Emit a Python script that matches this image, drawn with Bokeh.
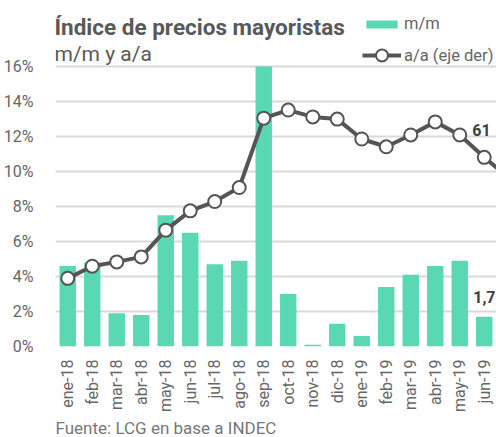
from bokeh.plotting import figure
from bokeh.models import Range1d, FixedTicker, Label, Legend, LegendItem, Title
from bokeh.embed import file_html
from bokeh.resources import INLINE
from math import pi

months = ["ene-18", "feb-18", "mar-18", "abr-18", "may-18", "jun-18", "jul-18", "ago-18",
          "sep-18", "oct-18", "nov-18", "dic-18", "ene-19", "feb-19", "mar-19", "abr-19",
          "may-19", "jun-19"]
mm = [4.6, 4.8, 1.9, 1.8, 7.5, 6.5, 4.7, 4.9, 16.0, 3.0, 0.1, 1.3, 0.6, 3.4, 4.1, 4.6, 4.9, 1.7]
# a/a series (right axis), continues one month beyond the visible area (jul-19)
aa_months = months + ["jul-19"]
aa = [21.9, 25.8, 27.2, 28.8, 37.4, 43.6, 46.6, 51.1, 73.4, 76.0, 73.8, 73.1,
      66.7, 64.2, 68.0, 72.2, 68.0, 60.8, 54.3]
left_ticks = [0, 2, 4, 6, 8, 10, 12, 14, 16]
right_max = 90

title_txt = "Índice de precios mayoristas"
subtitle_txt = "m/m y a/a"
source_txt = "Fuente: LCG en base a INDEC"
label_aa = "61"
label_mm = "1,7"

TEAL = "#5ad8b3"
DARK = "#555555"
GRAY = "#666666"
FONT = "Roboto"

# layout (pixels)
W, H = 496, 437
BOTTOM = 91          # space below the plotting area
HEAD = 66            # space above the 16% gridline (title + legend live here)
frame_h = H - BOTTOM
scale_top = left_ticks[-1] * frame_h / (frame_h - HEAD)

x_mm = list(range(len(months)))
x_aa = list(range(len(aa_months)))

p = figure(width=W, height=H, x_range=Range1d(-0.5, len(months) - 0.5),
           y_range=Range1d(left_ticks[0], scale_top),
           output_backend="svg", toolbar_location=None,
           min_border_left=53, min_border_right=0, min_border_top=0, min_border_bottom=BOTTOM)
p.extra_y_ranges = {"aa": Range1d(0, right_max * scale_top / left_ticks[-1])}
p.outline_line_color = None
p.background_fill_color = "white"
p.border_fill_color = "white"

p.xgrid.visible = False
p.ygrid.ticker = FixedTicker(ticks=left_ticks)
p.ygrid.grid_line_color = "#d9d9d9"
p.ygrid.grid_line_width = 2

ya = p.yaxis[0]
ya.ticker = FixedTicker(ticks=left_ticks)
ya.major_label_overrides = {t: f"{t}%" for t in left_ticks}
ya.axis_line_color = None
ya.major_tick_line_color = None
ya.minor_tick_line_color = None
ya.major_label_standoff = 16
ya.major_label_text_font = FONT
ya.major_label_text_font_size = "16px"
ya.major_label_text_color = GRAY

xa = p.xaxis[0]
xa.ticker = FixedTicker(ticks=x_mm)
xa.major_label_overrides = {i: m for i, m in enumerate(months)}
xa.major_label_orientation = pi / 2
xa.axis_line_color = None
xa.major_tick_line_color = None
xa.minor_tick_line_color = None
xa.major_label_standoff = 7
xa.major_label_text_font = FONT
xa.major_label_text_font_size = "16px"
xa.major_label_text_color = GRAY

bars = p.vbar(x=x_mm, top=mm, width=0.67, fill_color=TEAL, line_color=None)
line = p.line(x=x_aa, y=aa, y_range_name="aa", line_color=DARK, line_width=4)
pts = p.scatter(x=x_aa, y=aa, y_range_name="aa", size=13, marker="circle",
                fill_color="white", line_color=DARK, line_width=2)

leg1 = Legend(items=[LegendItem(label="m/m", renderers=[bars])], location=(307, 313),
              glyph_width=39, glyph_height=10, label_height=18, padding=0, margin=0,
              border_line_color=None, background_fill_alpha=0, label_standoff=3,
              label_text_font=FONT, label_text_font_size="16.5px", label_text_color=GRAY)
leg2 = Legend(items=[LegendItem(label="a/a (eje der)", renderers=[line, pts])], location=(307, 276),
              glyph_width=39, glyph_height=30, label_height=18, padding=0, margin=0,
              border_line_color=None, background_fill_alpha=0, label_standoff=3,
              label_text_font=FONT, label_text_font_size="16.5px", label_text_color=GRAY)
p.add_layout(leg1, "center")
p.add_layout(leg2, "center")

p.add_layout(Label(x=-1, y=320, x_units="screen", y_units="screen", text=title_txt,
                   text_font=FONT, text_font_style="bold", text_font_size="22.5px",
                   text_color="#595959", text_baseline="alphabetic"))
p.add_layout(Label(x=-1, y=293, x_units="screen", y_units="screen", text=subtitle_txt,
                   text_font=FONT, text_font_size="21px",
                   text_color="#595959", text_baseline="alphabetic"))
p.add_layout(Title(text=source_txt, align="left", text_font=FONT, text_font_size="17px",
                   text_font_style="normal", text_color="#777777", standoff=0), "below")

last = len(months) - 1
p.add_layout(Label(x=x_mm[last], y=aa[last], y_range_name="aa", x_offset=-12, y_offset=27,
                   text=label_aa, text_font=FONT, text_font_style="bold", text_font_size="16px",
                   text_color="#404040", text_baseline="middle"))
p.add_layout(Label(x=x_mm[last], y=mm[last], x_offset=-11, y_offset=20,
                   text=label_mm, text_font=FONT, text_font_style="bold", text_font_size="16px",
                   text_color="#404040", text_baseline="middle"))

open("out.html", "w").write(file_html(p, INLINE))
